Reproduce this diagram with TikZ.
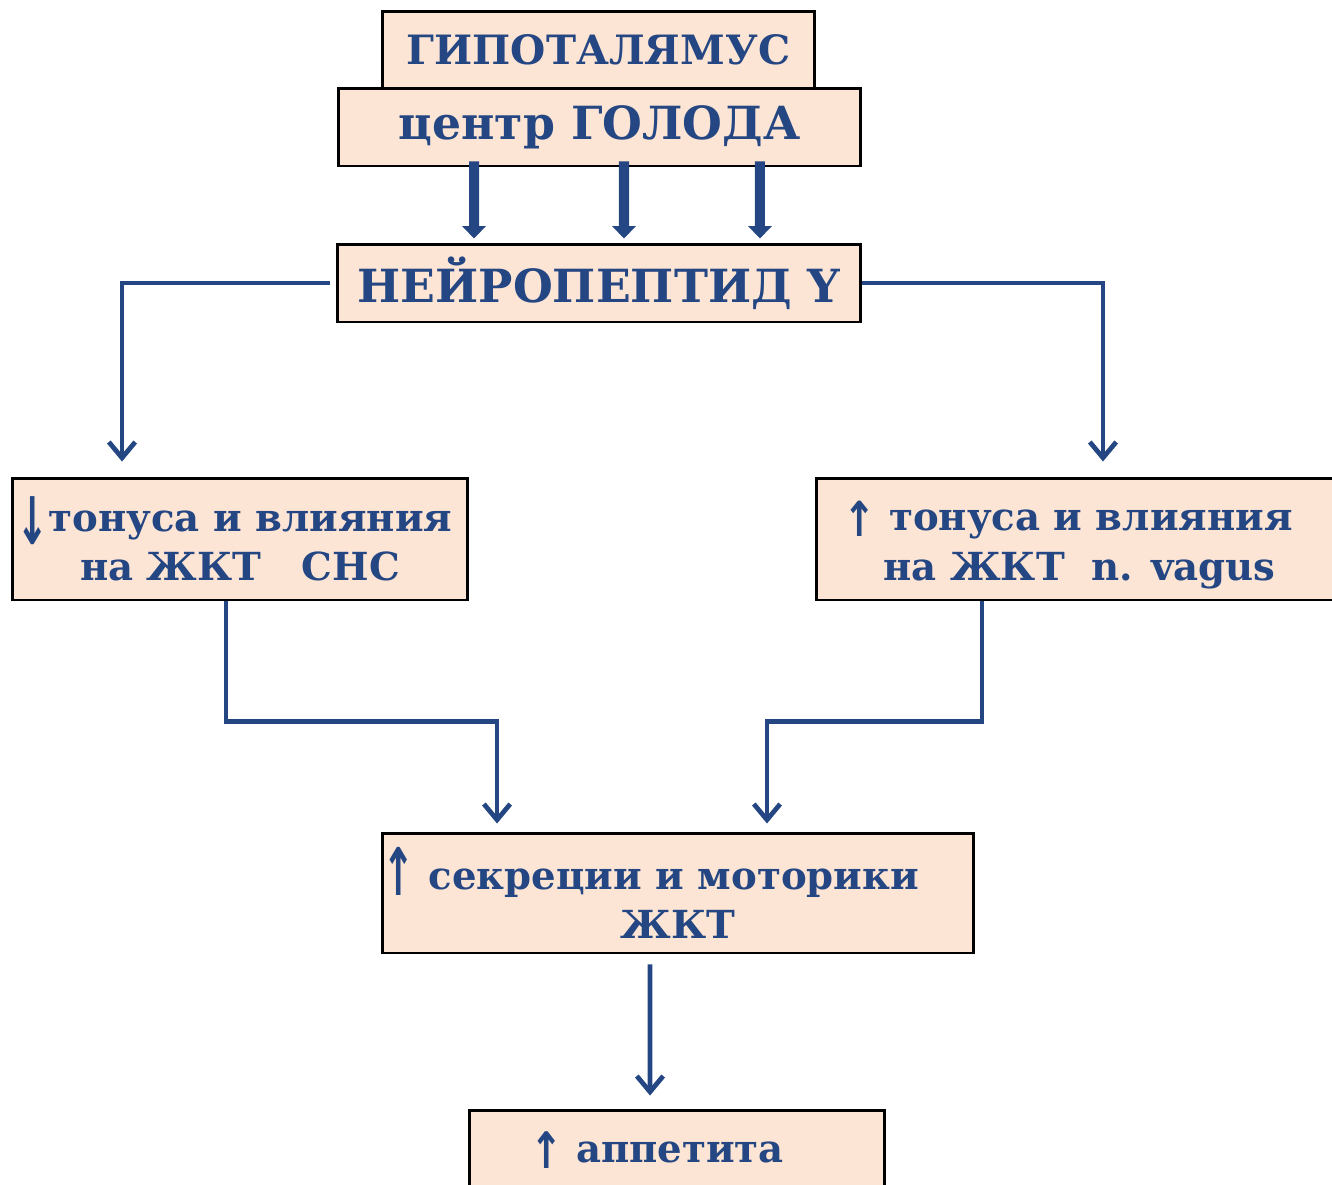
\documentclass[tikz,border=0pt]{standalone}
\usepackage{fontspec}
\setmainfont{DejaVu Serif}
\newfontfamily\arrowfont{DejaVu Sans}
\usetikzlibrary{arrows.meta}
\definecolor{txtblue}{HTML}{244683}
\definecolor{boxfill}{HTML}{FDE5D5}
\newcommand{\upar}[1]{{\arrowfont\raisebox{-0.15em}{\scalebox{1}[#1]{↑}}}}
\newcommand{\dnar}[1]{{\arrowfont\raisebox{-0.35em}{\scalebox{1}[#1]{↓}}}}
\tikzset{
  box/.style={draw=black, line width=1.7pt, fill=boxfill, text=txtblue,
    font=\bfseries, align=center, inner sep=0pt},
  thickarrow/.style={draw=txtblue, line width=5.7pt,
    -{Triangle[length=7pt,width=13pt]}},
  thinarrow/.style={draw=txtblue, line width=2.7pt,
    -{Straight Barb[length=9pt,width=15pt,line width=2.7pt]}},
  thinline/.style={draw=txtblue, line width=2.7pt}
}
\begin{document}
\begin{tikzpicture}[x=0.02cm, y=-0.02cm]
\useasboundingbox (0,0) rectangle (1332,1184);
% boxes
\node[box, minimum width=8.66cm, minimum height=1.54cm, font=\bfseries\fontsize{23}{26}\selectfont]
  (hyp) at (598.5,49.5) {ГИПОТАЛЯМУС};
\node[box, minimum width=10.46cm, minimum height=1.56cm, font=\bfseries\fontsize{26}{30}\selectfont]
  (hunger) at (599.5,127) {центр ГОЛОДА};
\node[box, minimum width=10.48cm, minimum height=1.56cm, font=\bfseries\fontsize{26}{30}\selectfont]
  (npy) at (599,283) {НЕЙРОПЕПТИД Y};
\node[box, minimum width=9.12cm, minimum height=2.44cm, font=\bfseries\fontsize{22}{28}\selectfont]
  (left) at (240,539) {\hspace*{-0.3em}\dnar{1.7}тонуса и влияния\\на ЖКТ \ \ СНС};
\node[box, minimum width=10.4cm, minimum height=2.44cm, font=\bfseries\fontsize{22}{28}\selectfont]
  (right) at (1076,539) {};
\node[text=txtblue, font=\bfseries\fontsize{22}{28}\selectfont, align=center, inner sep=0pt]
  (righttext) at (1068,545) {\upar{1.25} тонуса и влияния\\\hspace*{0.6em}на ЖКТ \ n. vagus};
\node[box, minimum width=11.84cm, minimum height=2.4cm, font=\bfseries\fontsize{22}{28}\selectfont]
  (sec) at (678,893) {\upar{1.7} секреции и моторики\hspace*{1.4em}\\ЖКТ};
\node[box, minimum width=8.32cm, minimum height=1.8cm, font=\bfseries\fontsize{22}{28}\selectfont]
  (app) at (677,1155) {};
\node[text=txtblue, font=\bfseries\fontsize{22}{28}\selectfont, anchor=center]
  (apptext) at (657,1150) {\upar{1.3} аппетита};
% thick arrows
\draw[thickarrow] ([xshift=-2.51cm,yshift=0.12cm]hunger.south) -- ([xshift=-2.5cm,yshift=0.08cm]npy.north);
\draw[thickarrow] ([xshift=0.49cm,yshift=0.12cm]hunger.south) -- ([xshift=0.5cm,yshift=0.08cm]npy.north);
\draw[thickarrow] ([xshift=3.21cm,yshift=0.12cm]hunger.south) -- ([xshift=3.22cm,yshift=0.08cm]npy.north);
% side connectors
\draw[thinarrow, shorten <=0.12cm, shorten >=0.3cm] (npy.west) -| ([xshift=-2.36cm]left.north);
\draw[thinarrow, shorten >=0.3cm] (npy.east) -| ([xshift=0.54cm]right.north);
% merge into secretion
\draw[thinarrow, shorten >=0.16cm] ([xshift=-0.28cm]left.south) -- ++(0,120) -| ([xshift=-3.62cm]sec.north);
\draw[thinarrow, shorten >=0.16cm] ([xshift=-1.88cm]right.south) -- ++(0,120) -| ([xshift=1.78cm]sec.north);
% to appetite
\draw[thinarrow, shorten <=0.2cm, shorten >=0.26cm] ([xshift=-0.56cm]sec.south) -- ([xshift=-0.54cm]app.north);
\end{tikzpicture}
\end{document}
